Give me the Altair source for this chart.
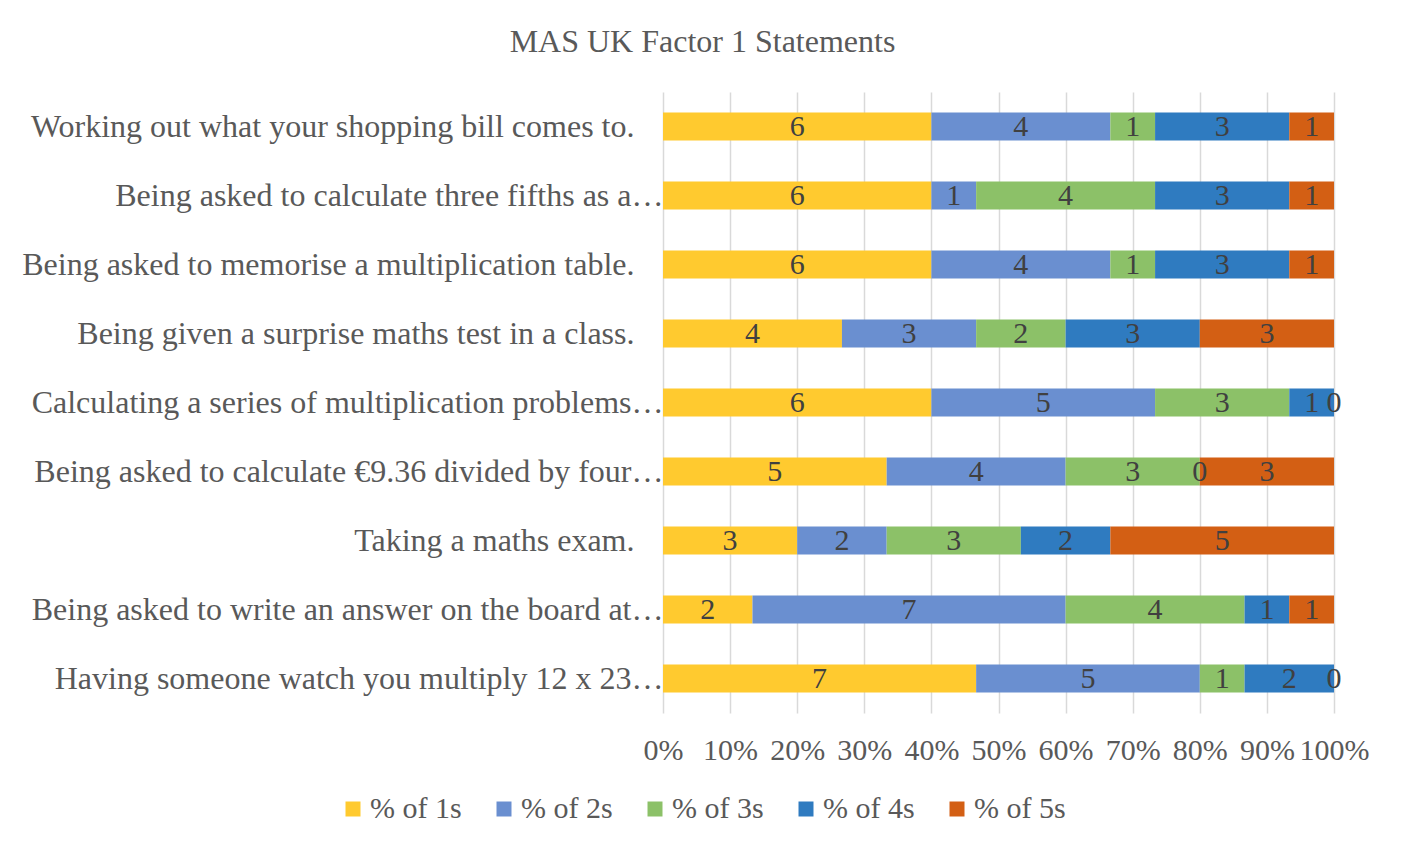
import altair as alt
import pandas as pd

statements = [
    "Working out what your shopping bill comes to.",
    "Being asked to calculate three fifths as a…",
    "Being asked to memorise a multiplication table.",
    "Being given a surprise maths test in a class.",
    "Calculating a series of multiplication problems…",
    "Being asked to calculate €9.36 divided by four…",
    "Taking a maths exam.",
    "Being asked to write an answer on the board at…",
    "Having someone watch you multiply 12 x 23…",
]
series = ["% of 1s", "% of 2s", "% of 3s", "% of 4s", "% of 5s"]
c1 = [6, 6, 6, 4, 6, 5, 3, 2, 7]
c2 = [4, 1, 4, 3, 5, 4, 2, 7, 5]
c3 = [1, 4, 1, 2, 3, 3, 3, 4, 1]
c4 = [3, 3, 3, 3, 1, 0, 2, 1, 2]
c5 = [1, 1, 1, 3, 0, 3, 5, 1, 0]
colors = ["#FFCA2F", "#6A8FD0", "#8CC168", "#2F7BC0", "#D35F14"]

rows = []
for si, vals in enumerate([c1, c2, c3, c4, c5]):
    for st, v in zip(statements, vals):
        rows.append({"statement": st, "series": series[si], "order": si, "count": v})
df = pd.DataFrame(rows)

FONT = "Liberation Serif"
FS = 30

base = alt.Chart(df).transform_stack(
    stack="count",
    groupby=["statement"],
    as_=["x0", "x1"],
    offset="normalize",
    sort=[alt.SortField("order", order="ascending")],
).transform_calculate(mid="(datum.x0 + datum.x1) / 2")

yenc = alt.Y(
    "statement:N",
    sort=statements,
    scale=alt.Scale(paddingInner=0, paddingOuter=0),
    axis=alt.Axis(
        title=None,
        ticks=False,
        domain=False,
        labelFont=FONT,
        labelFontSize=32,
        labelColor="#595959",
        labelLimit=0,
        labelPadding=alt.ExprRef("slice(datum.label, -1) == '…' ? 0 : 29"),
    ),
)

xaxis = alt.Axis(
    title=None,
    format="%",
    values=[i / 10 for i in range(11)],
    ticks=False,
    domain=False,
    grid=True,
    gridColor="#D9D9D9",
    gridWidth=1.5,
    labelFont=FONT,
    labelFontSize=FS,
    labelColor="#595959",
    labelPadding=22,
    labelFlush=False,
)

bars = base.mark_bar(size=28).encode(
    y=yenc,
    x=alt.X("x0:Q", scale=alt.Scale(domain=[0, 1], nice=False), axis=xaxis),
    x2="x1:Q",
    color=alt.Color(
        "series:N",
        scale=alt.Scale(domain=series, range=colors),
        legend=alt.Legend(
            title=None,
            orient="none",
            direction="horizontal",
            legendX=-325,
            legendY=702,
            symbolType="square",
            symbolSize=225,
            symbolStrokeWidth=0,
            labelFont=FONT,
            labelFontSize=FS,
            labelColor="#595959",
            columnPadding=27,
            labelOffset=2,
        ),
    ),
)

text = base.mark_text(
    font=FONT, fontSize=FS, color="#404040", align="center", baseline="middle"
).encode(
    y=alt.Y("statement:N", sort=statements),
    x=alt.X("mid:Q"),
    text=alt.Text("count:Q"),
)

chart = (
    alt.layer(bars, text)
    .properties(
        width=671,
        height=621,
        autosize=alt.AutoSizeParams(type="none"),
        padding={"left": 655, "top": 84, "right": 60, "bottom": 120},
        title=alt.TitleParams(
            "MAS UK Factor 1 Statements",
            font=FONT,
            fontSize=32,
            fontWeight="normal",
            color="#595959",
            anchor="middle",
            dx=-296,
            offset=33,
        ),
    )
    .configure(background="white")
    .configure_view(stroke="transparent")
)

chart.save("out.html", embed_options={"renderer": "svg", "actions": False})
